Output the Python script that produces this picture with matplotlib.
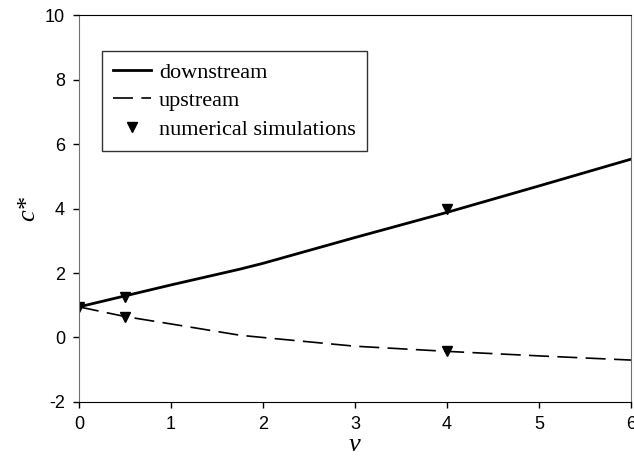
import numpy as np
import matplotlib
matplotlib.use("Agg")
import matplotlib.pyplot as plt

plt.rcParams["axes.unicode_minus"] = False

# values
v_down = [0, 1, 1.75, 2, 3, 4, 5, 6]
c_down = [0.95, 1.63, 2.12, 2.3, 3.1, 3.88, 4.7, 5.53]
v_up = [0, 0.5, 1, 1.75, 2, 3, 4, 5, 6]
c_up = [0.95, 0.65, 0.42, 0.07, 0.0, -0.27, -0.43, -0.57, -0.7]
v_sim = [0, 0.5, 4, 0.5, 4]
c_sim = [0.95, 1.25, 4.0, 0.65, -0.43]

fig = plt.figure(figsize=(6.34, 4.70), dpi=100)
ax = fig.add_axes([0.1246, 0.1447, 0.8706, 0.8233])

ax.plot(v_down, c_down, color="black", lw=2.0, label="downstream")
ax.plot(v_up, c_up, color="black", lw=1.2, dashes=(12, 5), label="upstream")
ax.plot(v_sim, c_sim, "v", color="black", ms=7.5, ls="none",
        label="numerical simulations")

ax.set_xlim(0, 6)
ax.set_ylim(-2, 10)
ax.set_xticks(range(0, 7))
ax.set_yticks(range(-2, 11, 2))
ax.tick_params(direction="out", length=4, width=1, colors="black",
               labelsize=13, pad=6)
for lab in ax.get_xticklabels() + ax.get_yticklabels():
    lab.set_family("Liberation Sans")

ax.spines["left"].set_color("#707070")
ax.spines["right"].set_color("#707070")
ax.spines["top"].set_color("black")
ax.spines["bottom"].set_color("black")

ax.set_xlabel("v", family="Liberation Serif", style="italic", fontsize=19,
              labelpad=1)
ax.set_ylabel("c*", family="Liberation Serif", style="italic", fontsize=19,
              labelpad=4)

leg = ax.legend(loc="upper left", bbox_to_anchor=(0.042, 0.907),
                prop={"family": "Liberation Serif", "size": 16},
                frameon=True, fancybox=False, edgecolor="black",
                borderpad=0.5, labelspacing=0.36, handlelength=1.7,
                handletextpad=0.35, borderaxespad=0)
leg.get_frame().set_linewidth(1.0)

fig.savefig("out.png", dpi=100)
